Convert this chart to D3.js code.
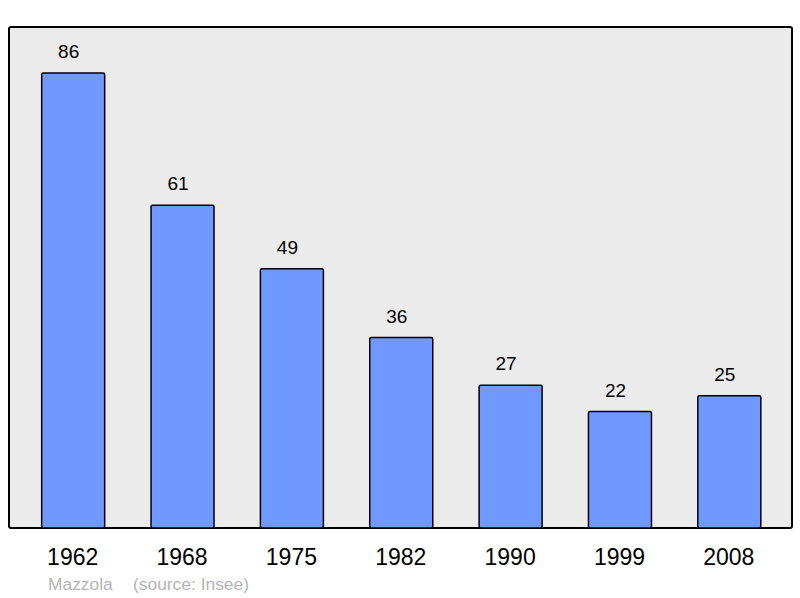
<!DOCTYPE html>
<html>
<head>
<meta charset="utf-8">
<script src="https://cdn.jsdelivr.net/npm/d3@7"></script>
<style>
  body { margin: 0; background: #fff; }
  text { font-family: "Liberation Sans", Arial, sans-serif; }
</style>
</head>
<body>
<div id="chart"></div>
<script>
var years = ["1962", "1968", "1975", "1982", "1990", "1999", "2008"];
var population = [86, 61, 49, 36, 27, 22, 25];

var svgWidth = 800;
var svgHeight = 598;

var plot = { left: 9, top: 27, right: 792, bottom: 528 };

var svg = d3.select("#chart")
  .append("svg")
  .attr("width", svgWidth)
  .attr("height", svgHeight);

// plot background
svg.append("rect")
  .attr("x", plot.left)
  .attr("y", plot.top)
  .attr("width", plot.right - plot.left)
  .attr("height", plot.bottom - plot.top)
  .attr("rx", 2)
  .attr("fill", "#ebebeb")
  .attr("stroke", "#000")
  .attr("stroke-width", 2);

var xScale = d3.scaleBand()
  .domain(years)
  .range([18.5, 784])
  .paddingInner(0.424)
  .paddingOuter(0.212);

var yScale = d3.scaleLinear()
  .domain([0, 94.7])
  .range([plot.bottom, plot.top]);

var data = years.map(function(y, i) { return { year: y, value: population[i] }; });

svg.selectAll(".bar")
  .data(data)
  .enter()
  .append("rect")
  .attr("class", "bar")
  .attr("x", d => xScale(d.year))
  .attr("y", d => yScale(d.value))
  .attr("width", xScale.bandwidth())
  .attr("height", d => plot.bottom - yScale(d.value))
  .attr("rx", 1.5)
  .attr("fill", "#7099ff")
  .attr("stroke", "#000")
  .attr("stroke-width", 1.5);

// value labels (sit slightly left of bar centre, as in the original)
svg.selectAll(".val")
  .data(data)
  .enter()
  .append("text")
  .attr("class", "val")
  .attr("x", d => xScale(d.year) + xScale.bandwidth() / 2 - 4.5)
  .attr("y", d => yScale(d.value) - 15)
  .attr("text-anchor", "middle")
  .attr("font-size", "19px")
  .attr("fill", "#000")
  .text(d => d.value);

// x axis labels
var xAxis = d3.axisBottom(xScale).tickSize(0).tickPadding(0);
var axisG = svg.append("g")
  .attr("transform", `translate(0, ${plot.bottom})`)
  .call(xAxis);
axisG.select(".domain").remove();
axisG.selectAll("text")
  .attr("dy", null)
  .attr("y", 37)
  .attr("x", -0.5)
  .attr("font-size", "23px")
  .attr("font-family", "Liberation Sans, Arial, sans-serif")
  .attr("fill", "#000");

// footer
svg.append("text")
  .attr("x", 48)
  .attr("y", 590)
  .attr("font-size", "17.4px")
  .attr("fill", "#b4b4b4")
  .text("Mazzola");

svg.append("text")
  .attr("x", 133)
  .attr("y", 590)
  .attr("font-size", "17.4px")
  .attr("fill", "#b4b4b4")
  .text("(source: Insee)");
</script>
</body>
</html>
